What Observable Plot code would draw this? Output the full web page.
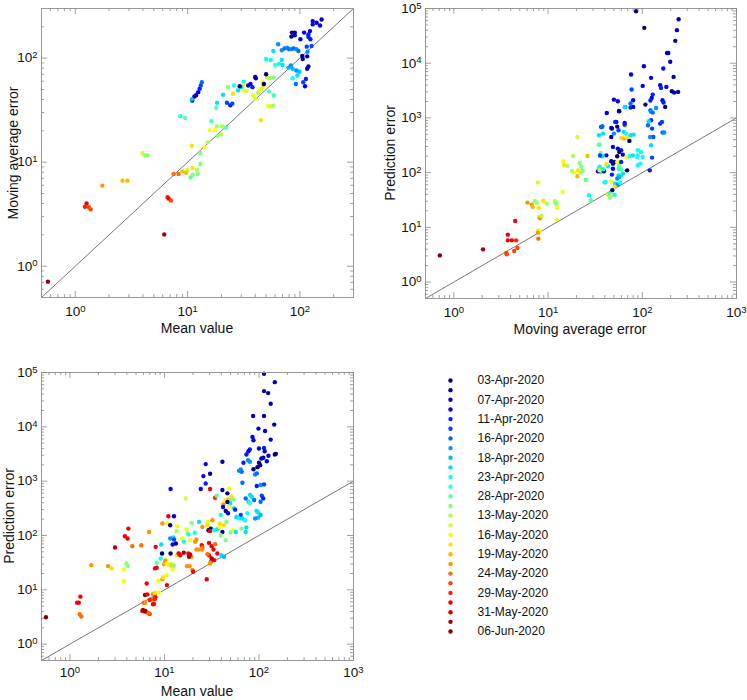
<!DOCTYPE html>
<html>
<head>
<meta charset="utf-8">
<script src="https://cdn.jsdelivr.net/npm/d3@7"></script>
<script src="https://cdn.jsdelivr.net/npm/@observablehq/plot@0.6"></script>
<style>
  body { margin: 0; background: #fff; }
  #chart { position: relative; width: 747px; height: 700px; background: #fff;
    font-family: "Liberation Sans", Arial, Helvetica, sans-serif; color: #111; }
  #chart svg { position: absolute; overflow: visible; }
  .ttl { position: absolute; font-size: 14px; white-space: nowrap; transform: translate(-50%, -50%); }
  .rot { transform: translate(-50%, -50%) rotate(-90deg); }
</style>
</head>
<body>
<div id="chart"></div>
<script>
// ---------------- DATA ----------------
// legend: 27 colour groups (jet), every other one labelled
const legendLabels = ["03-Apr-2020","07-Apr-2020","11-Apr-2020","16-Apr-2020","18-Apr-2020","23-Apr-2020","28-Apr-2020","13-May-2020","16-May-2020","19-May-2020","24-May-2020","29-May-2020","31-May-2020","06-Jun-2020"];
const groupCount = 27;

// tick values (decades)
const ticksTo300 = [1, 10, 100];
const ticksTo1000 = [1, 10, 100, 1000];
const ticksTo1e5 = [1, 10, 100, 1000, 10000, 100000];

// Panel 1: [mean value, moving average error, group]
const meanVsMovingAvg = [
[156,235,1],[151,206,3],[141,219,2],[130,227,2],[130,211,3],[123,182,3],[119,169,4],[119,160,4],[101,152,3],
[85,176,0],[90,176,1],[84,161,1],[90,166,2],[109,176,3],[124,152,4],[127,131,5],[64,136,7],[58,117,9],
[69,119,7],[73,124,6],[77,126,7],[80,122,6],[84,122,7],[88,124,6],[93,122,7],[97,117,6],[115,129,5],
[117,115,7],[105,105,0],[106,98,1],[116,104,2],[119,83,1],[116,79,2],[50,98,10],[55,96,10],[69,96,9],
[60,86,11],[65,88,10],[70,86,9],[79,81,8],[83,85,7],[86,79,8],[93,76,7],[99,74,8],[95,68,9],[86,64,10],
[92,56.5,6],[113,63,4],[111,53.7,3],[107,58.6,5],[51,65,15],[54,64,14],[58,65,13],[50,70,0],[40,66,0],
[40.5,64,1],[31.6,59.5,10],[31.2,54.5,16],[30,52.6,9],[34.6,54.5,3],[36.3,56.5,2],[37.8,52.6,4],[29.1,53.7,1],
[46.5,58.6,16],[47,54.5,17],[45.5,50.7,15],[47.8,56.5,0],[43.4,48.9,16],[42.5,46.4,14],[53,47.8,12],[58.6,43.8,11],
[25.9,54.5,10],[22.9,52.6,13],[25.4,45.4,17],[31.8,48.9,16],[33.4,48.3,15],[28.1,48.9,9],[38.3,43.8,16],[40,40.7,15],
[20.7,44.4,9],[22.4,37.3,5],[24,35.2,4],[25,36.5,5],[18.3,37.3,9],[18,33.4,12],[52,34.7,16],[55,34.4,15],
[58,34.9,14],[44.9,25.3,17],[8.6,27.6,11],[9.5,26.6,12],[11,39.2,0],[11.5,42.8,1],[11.9,44,2],[12.4,47.1,3],
[12.8,50.7,4],[13.1,54.5,5],[13.4,58.6,6],[10.9,40.1,8],[16.3,24.8,12],[15.8,20.3,16],[17.5,20.3,16],[18.2,22.2,14],
[20.3,22.2,14],[22,21.4,12],[19.9,18.5,14],[18.5,17.9,13],[15.1,15.5,14],[14.1,13.9,16],[13,12.2,13],[10.9,14.4,17],
[13,9.6,13],[12.1,8.45,14],[12.3,7.69,13],[11.1,8.77,17],[10,8.45,15],[9.7,7.91,18],[9,8.15,18],[11.1,7.57,13],
[10.6,7.14,12],[7.5,7.69,20],[8.3,7.69,20],[3.96,12.2,15],[4.16,11.6,14],[4.4,11.6,13],[2.63,6.64,18],[2.91,6.64,18],
[1.74,5.95,19],[1.26,4.01,23],[1.22,3.73,22],[1.32,3.70,21],[1.37,3.52,21],[6.63,4.61,22],[6.77,4.48,23],[7.1,4.28,21],
[6.19,2.02,25],[0.57,0.71,26]
];

// Panel 2: [moving average error, prediction error, group]
const movingAvgVsPrediction = [
[86,89300,0],[105,44300,0],[243,63800,1],[233,40200,1],[224,25600,1],[183,15400,2],[189,15400,2],[198,10600,2],
[104,8810,2],[167,7980,3],[76,6210,3],[124,5400,3],[215,5620,2],[101,3850,3],[155,3960,3],[158,3540,4],[77,3300,5],
[180,3690,3],[206,3070,0],[218,2900,1],[240,2990,1],[129,2670,4],[126,2320,3],[164,2100,3],[168,1910,4],[50,2160,2],
[55,2020,3],[80,2100,3],[108,1750,0],[122,2080,4],[66,1590,7],[75,1830,6],[80,1590,3],[175,1590,0],[57,1320,2],
[122,1380,6],[124,1290,7],[129,1250,6],[140,1520,7],[42,1230,3],[53,845,3],[65,810,3],[115,735,6],[155,787,4],
[162,845,5],[124,906,4],[36.7,684,1],[46.9,656,2],[66,714,17],[127,638,5],[56.5,1340,0],[65,1570,9],[75,1545,4],
[117,869,9],[37.7,704,6],[51.6,845,4],[54.2,694,0],[65,755,4],[47.6,638,0],[56,595,5],[63.7,555,9],[67.5,517,10],
[59.7,431,17],[63.7,419,18],[69,431,17],[75,482,9],[81,495,9],[73,380,0],[46.9,449,0],[38.3,517,9],[50,517,7],
[35.3,325,12],[20.5,449,15],[131,449,5],[121,449,7],[124,316,9],[164,540,6],[171,540,7],[55,275,3],[59.7,256,4],
[57,239,0],[62.2,213,3],[54.2,199,0],[48.8,295,3],[41.5,207,3],[37.7,199,9],[73,199,10],[79.3,207,9],[89.6,256,10],
[97,239,10],[88.1,193,11],[89.6,207,10],[101,193,10],[127,188,5],[67.5,193,16],[46.9,161,1],[48.8,146,2],[50.8,157,0],
[54.2,157,16],[57,136,13],[59.7,157,4],[43.2,131,9],[41.5,142,17],[48.8,118,3],[56.5,118,10],[59.7,115,12],[69,110,0],
[35.3,127,9],[36.7,110,10],[36.2,103,9],[33.9,106,3],[39.2,106,0],[47.6,92,4],[56,89,9],[59.7,89,10],[57,83,8],
[62.2,96,9],[54.2,78,7],[39.8,66,10],[46.9,69,16],[51.6,63,9],[55,60,7],[50.8,55,17],[58,66,10],[48,47.5,0],
[43.2,39.6,17],[45.7,41.3,10],[48,39.6,16],[50.8,39.6,10],[27.2,38.5,10],[28.4,31.2,12],[45.7,34.9,13],[120,110,4],
[89.6,136,10],[95.5,146,10],[18.5,202,14],[14.5,161,16],[14.8,136,17],[16,132,14],[21.7,150,13],[22.6,127,13],
[22.2,100,14],[20.5,86,18],[25.1,74,12],[26.2,202,18],[34.4,325,12],[36.2,229,13],[18.9,100,16],[14.3,44.3,16],
[12,29,14],[12.3,27.1,13],[12.5,23.5,16],[12.3,14,16],[18,107,14],[20.8,110,17],[23.2,107,13],[7.82,66,15],
[7.28,29.9,13],[7.57,27.9,14],[8.91,30.3,17],[9.66,27.1,14],[11.8,29.9,14],[12.1,27.1,13],[12.4,22.9,16],[6.04,28.3,19],
[6.71,26,19],[6.87,23.5,18],[7.95,22.9,17],[8.02,15.5,17],[8.22,14.6,19],[8.49,16.1,14],[7.89,8.81,17],[8.08,8.45,16],
[7.82,7.99,19],[7.89,6.21,20],[37.3,684,6],[34.7,482,9],[35.6,205,5],[34.7,122,10],[35.3,110,16],[38.6,115,10],
[40.8,67.5,10],[4.48,13.1,23],[3.74,7.34,23],[3.74,5.78,23],[4.13,5.78,23],[4.58,5.78,22],[4.73,4.19,21],[4.37,3.69,21],
[3.6,3.39,21],[3.65,3.21,21],[2.04,3.96,25],[0.71,3.07,26]
];

// Panel 3: [mean value, prediction error, group]
const meanVsPrediction = [
[113,94600,2],[147,66500,1],[113,45500,1],[125,41800,1],[133,26600,1],[86.7,15800,2],[113,15800,1],[145,11000,1],
[98.7,9270,2],[116,8400,2],[85.3,6520,3],[87.4,5660,3],[133,5820,2],[80,3820,4],[77.3,3560,3],[100,3980,3],[113,4090,4],
[115,3560,2],[73.6,3090,4],[147,3090,0],[151,3180,0],[126,2930,2],[111,2690,1],[106,2610,2],[76.7,2430,7],[80,2270,7],
[68.5,2180,4],[100,2180,0],[103,1970,0],[121,2330,3],[96.3,1810,0],[87.4,1660,0],[61.6,1550,7],[64.2,1640,7],
[65.7,1490,6],[91,1330,7],[94.8,1390,6],[41,2270,1],[27.3,2060,3],[30.4,1370,1],[25.8,1240,3],[66.8,935,6],[94.8,812,4],
[104,848,7],[113,871,5],[24.2,716,3],[27.3,908,4],[30.4,716,23],[41,686,1],[48.3,736,16],[34.3,496,22],[35.7,540,12],
[46.3,596,0],[47.1,462,18],[42,374,19],[43.8,450,16],[50.3,450,13],[53.7,462,13],[49.5,391,9],[48.3,340,16],[54.5,316,9],
[72.4,482,6],[80.5,555,9],[83.9,518,9],[77.3,419,9],[80.5,391,11],[88.9,450,6],[107,540,5],[111,482,4],[104,419,6],
[94,282,9],[97.9,267,9],[104,239,8],[75.5,256,10],[64.2,239,5],[44.5,282,0],[47.1,256,3],[39.4,239,10],[11.6,716,3],
[16.8,482,15],[51.1,525,17],[46.3,413,0],[41.7,334,3],[55.9,299,4],[57.7,219,9],[61.6,205,10],[66.8,205,9],[71.3,191,10],
[97.9,213,8],[91,205,7],[73.6,140,9],[72.4,116,9],[11,226,23],[12.6,226,2],[9.5,166,19],[10.7,166,16],[11.5,154,1],
[6.87,116,19],[8.07,61.8,23],[5.69,66.3,20],[4.57,63.6,20],[3.0,60.1,25],[4.15,134,23],[3.82,97,23],[4.08,87.8,23],
[13.7,148,16],[13.4,121,14],[17.1,130,16],[17.5,112,14],[19.4,170,13],[23.2,178,9],[28.5,178,16],[32.1,191,19],
[25.2,144,19],[28.5,154,17],[29.2,125,0],[30.9,134,0],[30.4,121,23],[33.5,125,10],[36.3,130,9],[38.5,166,17],
[37.8,144,16],[42.7,154,17],[45.2,178,13],[41,116,0],[39.4,101,13],[44.5,81.9,13],[50.3,116,13],[53.7,125,16],
[56.8,116,9],[65.2,134,13],[12.4,91.6,9],[12.6,84.2,5],[13.2,71.1,0],[15.5,87.8,16],[16.1,76.3,10],[17.9,105,10],
[18.7,81.9,16],[20.9,112,10],[21.8,84.2,19],[21.1,76.3,19],[24.8,66.3,23],[25.2,60.1,20],[21.8,55.2,19],[29.6,73.1,23],
[31.6,63.6,23],[34.3,69.2,20],[33,55.2,23],[36.3,46.7,23],[40.1,43.4,9],[42.7,40.5,8],[29.6,43.4,23],[30.9,32.8,20],
[30.4,30.6,19],[33.5,35.2,23],[31.6,37.8,25],[28.5,45.3,20],[25.2,55.2,19],[23.2,55.2,19],[19.3,40.5,19],[18.5,27.3,19],
[19.7,23.1,19],[20.1,21.5,23],[17.9,46.7,23],[18.7,44.7,24],[18.2,40.5,25],[14.6,43.4,15],[13.5,43.4,17],[14,46.7,19],
[11.6,46.7,0],[9.12,37.8,10],[8.27,31.5,12],[10.3,35.2,15],[11.2,28.5,16],[9.9,29.7,19],[10.7,29.7,17],[10.1,31.5,18],
[12.1,27.3,19],[8.27,25.5,23],[10.5,18.7,16],[9.5,15.6,19],[8.62,14.7,16],[9.66,16.9,17],[12.3,27.3,13],[7.94,24.8,23],
[6.48,13.1,23],[10.6,12.2,23],[6.22,8.03,25],[6.59,8.26,23],[7.57,8.37,19],[7.94,8.85,17],[8.75,8.99,16],[7.45,6.68,20],
[6.98,6.5,22],[7.76,5.49,22],[6.08,5.81,21],[5.83,4.08,22],[6.22,3.97,25],[6.59,3.81,21],[6.98,3.6,22],[28,15.6,23],
[2.53,27.3,19],[2.76,24.8,17],[3.95,30.6,13],[4.11,27.3,13],[3.73,23.7,16],[3.73,14.5,16],[1.68,28.5,19],[9.27,68.2,9],
[12.2,68.2,3],[11.5,87.8,7],[9.42,46.7,0],[10.2,34.2,19],[10.6,30.6,16],[11.8,29.7,17],[12.5,28.5,13],[12.2,23.7,16],
[14.2,46.7,23],[14.7,43.4,23],[16,48,25],[17.3,27.3,19],[8.01,7.28,23],[7.88,6.68,22],[6.28,5.81,19],[7.57,5.41,23],
[5.93,4.26,25],[6.28,4.08,25],[6.81,3.7,20],[0.557,3.13,26],[1.19,5.81,23],[1.24,5.81,23],[1.29,7.48,23],[1.27,3.55,20],
[1.32,3.22,20]
];

// ---------------- RENDERING ----------------
const FONT = '"Liberation Sans", Arial, Helvetica, sans-serif';
const chart = document.getElementById("chart");

function jet(t) {
  const c = v => Math.max(0, Math.min(1, v));
  const r = c(1.5 - Math.abs(4 * t - 3)), g = c(1.5 - Math.abs(4 * t - 2)), b = c(1.5 - Math.abs(4 * t - 1));
  return `rgb(${Math.round(r * 255)},${Math.round(g * 255)},${Math.round(b * 255)})`;
}
const groupColor = g => jet(g / (groupCount - 1));

function minorTicks(domain) {
  const out = [];
  for (let k = Math.floor(Math.log10(domain[0])); k <= Math.ceil(Math.log10(domain[1])); k++)
    for (let m = 2; m <= 9; m++) {
      const v = m * Math.pow(10, k);
      if (v > domain[0] * 1.0001 && v < domain[1] * 0.9999) out.push(v);
    }
  return out;
}

function superscripts(svg) {
  const ns = "http://www.w3.org/2000/svg";
  svg.querySelectorAll("text").forEach(t => {
    const m = (t.textContent || "").match(/^10\^(-?\d+)$/);
    if (!m) return;
    t.textContent = "10";
    const s = document.createElementNS(ns, "tspan");
    s.setAttribute("dy", "-0.45em");
    s.setAttribute("font-size", "9.5");
    s.textContent = m[1];
    t.appendChild(s);
  });
}

function panel({data, xDomain, yDomain, xTicks, yTicks, left, top, width, height, mt, mr, mb, ml, xPad}) {
  const iw = width - ml - mr, ih = height - mt - mb;
  const xm = minorTicks(xDomain), ym = minorTicks(yDomain);
  const diag = [Math.max(xDomain[0], yDomain[0]), Math.min(xDomain[1], yDomain[1])];
  const fmt = d => "10^" + Math.round(Math.log10(d));
  const tk = {stroke: "#888", strokeWidth: 0.8};
  const svg = Plot.plot({
    width, height, marginTop: mt, marginRight: mr, marginBottom: mb, marginLeft: ml,
    style: {fontFamily: FONT, fontSize: "13.5px", color: "#111", background: "transparent"},
    x: {type: "log", domain: xDomain},
    y: {type: "log", domain: yDomain},
    color: {type: "identity"},
    marks: [
      Plot.line(diag, {x: d => d, y: d => d, stroke: "#555", strokeWidth: 0.8}),
      Plot.dot(data, {x: d => d[0], y: d => d[1], r: 2.2, fill: d => groupColor(d[2]), stroke: "none"}),
      Plot.frame({stroke: "#999", strokeWidth: 1}),
      Plot.tickX(xTicks, {x: d => d, insetTop: ih - 6, ...tk}),
      Plot.tickX(xTicks, {x: d => d, insetBottom: ih - 6, ...tk}),
      Plot.tickX(xm, {x: d => d, insetTop: ih - 3, ...tk}),
      Plot.tickX(xm, {x: d => d, insetBottom: ih - 3, ...tk}),
      Plot.tickY(yTicks, {y: d => d, insetRight: iw - 6, ...tk}),
      Plot.tickY(yTicks, {y: d => d, insetLeft: iw - 6, ...tk}),
      Plot.tickY(ym, {y: d => d, insetRight: iw - 3, ...tk}),
      Plot.tickY(ym, {y: d => d, insetLeft: iw - 3, ...tk}),
      Plot.axisX({ticks: xTicks, tickSize: 0, tickPadding: xPad, tickFormat: fmt, label: null, fontSize: 13.5}),
      Plot.axisY({ticks: yTicks, tickSize: 0, tickPadding: 4, tickFormat: fmt, label: null, fontSize: 13.5})
    ]
  });
  superscripts(svg);
  svg.style.left = left + "px";
  svg.style.top = top + "px";
  chart.appendChild(svg);
}

function title(text, x, y, rotate) {
  const d = document.createElement("div");
  d.className = "ttl" + (rotate ? " rot" : "");
  d.textContent = text;
  d.style.left = x + "px";
  d.style.top = y + "px";
  chart.appendChild(d);
}

panel({data: meanVsMovingAvg, xDomain: [0.5, 300], yDomain: [0.5, 300], xTicks: ticksTo300, yTicks: ticksTo300,
  left: 0, top: 0, width: 370, height: 340, mt: 8, mr: 17, mb: 43, ml: 41, xPad: 9});
panel({data: movingAvgVsPrediction, xDomain: [0.5, 1000], yDomain: [0.5, 1e5], xTicks: ticksTo1000, yTicks: ticksTo1e5,
  left: 370, top: 0, width: 377, height: 340, mt: 8, mr: 11, mb: 42, ml: 55, xPad: 9});
panel({data: meanVsPrediction, xDomain: [0.5, 1000], yDomain: [0.5, 1e5], xTicks: ticksTo1000, yTicks: ticksTo1e5,
  left: 0, top: 340, width: 370, height: 360, mt: 32, mr: 17, mb: 40, ml: 41, xPad: 7});

title("Mean value", 197, 328);
title("Moving average error", 13, 153, true);
title("Moving average error", 580, 329);
title("Prediction error", 390, 153, true);
title("Mean value", 197, 691);
title("Prediction error", 9, 516, true);

// legend
const groups = d3.range(groupCount);
const labelled = groups.filter(g => g % 2 === 0);
const legend = Plot.plot({
  width: 200, height: 290, margin: 0,
  style: {fontFamily: FONT, background: "transparent"},
  x: {domain: [0, 1], range: [50, 77], axis: null},
  y: {domain: [0, groupCount - 1], range: [20, 271], axis: null},
  color: {type: "identity"},
  marks: [
    Plot.dot(groups, {x: 0, y: d => d, r: 2.2, fill: d => groupColor(d), stroke: "none"}),
    Plot.text(labelled, {x: 1, y: d => d, text: d => legendLabels[d / 2], textAnchor: "start", fontSize: 12, fill: "#111"})
  ]
});
legend.style.left = "400px";
legend.style.top = "360px";
chart.appendChild(legend);
</script>
</body>
</html>
